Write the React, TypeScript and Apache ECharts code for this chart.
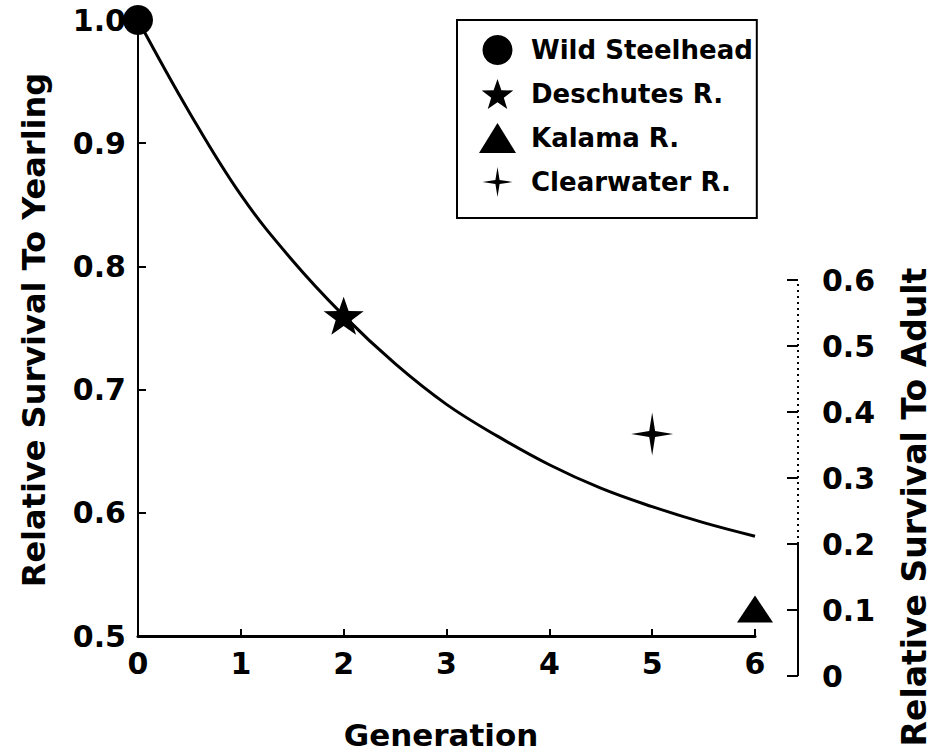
import React, { useEffect, useRef } from "react";
import * as echarts from "echarts";

// ---- data ----
const curveGenerations = [0, 0.5, 1, 1.5, 2, 2.5, 3, 3.5, 4, 4.5, 5, 5.5, 6];
const curveSurvival = [1.0, 0.925, 0.858, 0.805, 0.76, 0.721, 0.688, 0.662, 0.639, 0.62, 0.605, 0.592, 0.581];

const wildSteelhead = [[0, 1.0]];
const deschutes = [[2, 0.76]];
const kalama = [[6, 0.522]];
const clearwater = [[5, 0.664]];

const seriesNames = ["Wild Steelhead", "Deschutes R.", "Kalama R.", "Clearwater R."];

const xTitle = "Generation";
const leftTitle = "Relative Survival To Yearling";
const rightTitle = "Relative Survival To Adult";

const rightSolidSegment = [0, 0.2];
const rightDottedSegment = [0.2, 0.6];

const STAR =
  "path://M50,0 L61.76,33.82 L97.55,34.55 L69.02,56.18 L79.39,90.45 L50,70 L20.61,90.45 L30.98,56.18 L2.45,34.55 L38.24,33.82 Z";
const CROSS =
  "path://M50,0 L57,43 L100,50 L57,57 L50,100 L43,57 L0,50 L43,43 Z";

const FONT = "DejaVu Sans";

export default function App() {
  const ref = useRef<HTMLDivElement>(null);

  useEffect(() => {
    if (!ref.current) return;
    const chart = echarts.init(ref.current, undefined, { renderer: "svg" });

    const labelStyle = {
      fontFamily: FONT,
      fontWeight: "bold" as const,
      fontSize: 30,
      color: "#000",
    };

    const markerStyle = { color: "#000", opacity: 1 };

    const option: any = {
      animation: false,
      backgroundColor: "#fff",
      grid: [
        { left: 138, top: 20, width: 617, height: 616 },
        { left: 788, top: 280, width: 10, height: 396 },
      ],
      xAxis: [
        {
          type: "value",
          gridIndex: 0,
          min: 0,
          max: 6,
          interval: 1,
          axisLine: { show: true, onZero: false, lineStyle: { color: "#000", width: 3 } },
          axisTick: { show: true, inside: true, length: 7, lineStyle: { color: "#000", width: 2 } },
          axisLabel: { ...labelStyle, margin: 12 },
          splitLine: { show: false },
        },
        {
          type: "value",
          gridIndex: 1,
          min: 0,
          max: 1,
          show: false,
        },
      ],
      yAxis: [
        {
          type: "value",
          gridIndex: 0,
          min: 0.5,
          max: 1.0,
          interval: 0.1,
          axisLine: { show: true, onZero: false, lineStyle: { color: "#000", width: 2 } },
          axisTick: { show: true, inside: true, length: 8, lineStyle: { color: "#000", width: 2 } },
          axisLabel: { ...labelStyle, margin: 12, formatter: (v: number) => v.toFixed(1) },
          splitLine: { show: false },
        },
        {
          type: "value",
          gridIndex: 1,
          position: "right",
          min: 0,
          max: 0.6,
          interval: 0.1,
          axisLine: { show: false, onZero: false },
          axisTick: { show: true, inside: true, length: 11, lineStyle: { color: "#000", width: 2 } },
          axisLabel: {
            ...labelStyle,
            margin: 24,
            formatter: (v: number) => (v === 0 ? "0" : v.toFixed(1)),
          },
          splitLine: { show: false },
        },
      ],
      legend: {
        orient: "vertical",
        left: 457,
        top: 20,
        data: [
          { name: seriesNames[0], icon: "circle" },
          { name: seriesNames[1], icon: STAR },
          { name: seriesNames[2], icon: "triangle" },
          { name: seriesNames[3], icon: CROSS },
        ],
        itemWidth: 37,
        itemHeight: 30,
        itemGap: 14,
        padding: [15, 4, 21, 22],
        borderColor: "#000",
        borderWidth: 2,
        selectedMode: false,
        itemStyle: { opacity: 1 },
        textStyle: {
          fontFamily: FONT,
          fontWeight: "bold",
          fontSize: 26,
          color: "#000",
          lineHeight: 30,
          padding: [0, 0, 0, 10],
        },
      },
      graphic: [
        {
          type: "text",
          x: 441,
          y: 735,
          style: {
            text: xTitle,
            font: `bold 31px "${FONT}"`,
            fill: "#000",
            align: "center",
            verticalAlign: "middle",
          },
        },
        {
          type: "text",
          x: 34,
          y: 330,
          rotation: Math.PI / 2,
          style: {
            text: leftTitle,
            font: `bold 32px "${FONT}"`,
            fill: "#000",
            align: "center",
            verticalAlign: "middle",
          },
        },
        {
          type: "text",
          x: 914,
          y: 507,
          rotation: Math.PI / 2,
          style: {
            text: rightTitle,
            font: `bold 33px "${FONT}"`,
            fill: "#000",
            align: "center",
            verticalAlign: "middle",
          },
        },
      ],
      series: [
        {
          type: "line",
          name: "curve",
          xAxisIndex: 0,
          yAxisIndex: 0,
          data: curveGenerations.map((g, i) => [g, curveSurvival[i]]),
          smooth: 0.4,
          symbol: "none",
          lineStyle: { color: "#000", width: 3 },
          z: 1,
        },
        {
          type: "line",
          name: "rightSolid",
          xAxisIndex: 1,
          yAxisIndex: 1,
          data: rightSolidSegment.map((v) => [1, v]),
          symbol: "none",
          clip: false,
          lineStyle: { color: "#000", width: 2 },
        },
        {
          type: "line",
          name: "rightDotted",
          xAxisIndex: 1,
          yAxisIndex: 1,
          data: rightDottedSegment.map((v) => [1, v]),
          symbol: "none",
          clip: false,
          lineStyle: { color: "#000", width: 2, type: [2, 4] },
        },
        {
          type: "scatter",
          name: seriesNames[0],
          data: wildSteelhead,
          symbol: "circle",
          symbolSize: 30,
          itemStyle: markerStyle,
          z: 5,
        },
        {
          type: "scatter",
          name: seriesNames[1],
          data: deschutes,
          symbol: STAR,
          symbolSize: [40, 38],
          itemStyle: markerStyle,
          z: 5,
        },
        {
          type: "scatter",
          name: seriesNames[2],
          data: kalama,
          symbol: "triangle",
          symbolSize: [36, 27],
          itemStyle: markerStyle,
          z: 5,
        },
        {
          type: "scatter",
          name: seriesNames[3],
          data: clearwater,
          symbol: CROSS,
          symbolSize: [42, 43],
          itemStyle: markerStyle,
          z: 5,
        },
      ],
    };

    chart.setOption(option);
    return () => chart.dispose();
  }, []);

  return (
    <div
      ref={ref}
      style={{ position: "fixed", left: 0, top: 0, width: 935, height: 755, background: "#fff" }}
    />
  );
}
